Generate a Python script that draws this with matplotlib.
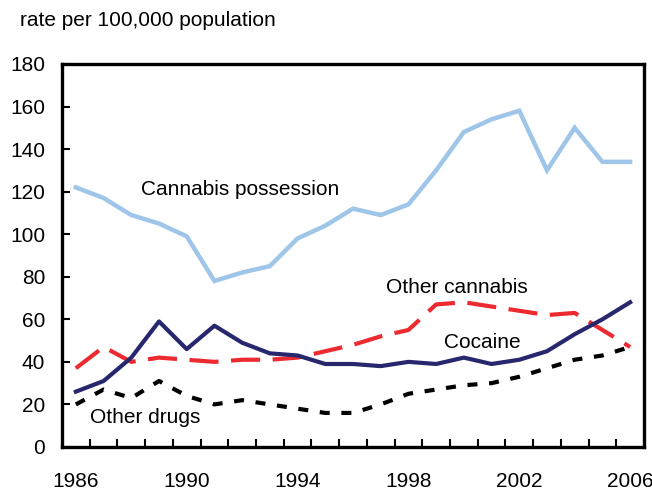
import numpy as np
import matplotlib
matplotlib.use('Agg')
import matplotlib.pyplot as plt

plt.rcParams['font.family'] = ['Liberation Sans', 'DejaVu Sans']

years = list(range(1986, 2007))
cannabis_possession = [122, 117, 109, 105, 99, 78, 82, 85, 98, 104, 112,
                       109, 114, 130, 148, 154, 158, 130, 150, 134, 134]
other_cannabis = [37, 47, 40, 42, 41, 40, 41, 41, 42, 45, 48,
                  52, 55, 67, 68, 66, 64, 62, 63, 55, 47]
cocaine = [26, 31, 42, 59, 46, 57, 49, 44, 43, 39, 39,
           38, 40, 39, 42, 39, 41, 45, 53, 60, 68]
other_drugs = [20, 27, 23, 31, 24, 20, 22, 20, 18, 16, 16,
               20, 25, 27, 29, 30, 33, 37, 41, 43, 47]

year_labels = [1986, 1990, 1994, 1998, 2002, 2006]
y_ticks = list(range(0, 181, 20))

fig = plt.figure(figsize=(6.52, 4.92), dpi=100)
ax = fig.add_axes([0.0951, 0.0915, 0.8926, 0.7785])

ax.plot(years, cannabis_possession, color='#9fc5e8', lw=3.2, solid_joinstyle='miter')
ax.plot(years, other_cannabis, color='#ed2a30', lw=3.0, dashes=(7, 3))
ax.plot(years, cocaine, color='#27276e', lw=3.0)
ax.plot(years, other_drugs, color='black', lw=3.0, dashes=(2.4, 2.8))

ax.text(1988.35, 121, 'Cannabis possession', fontsize=15, va='center')
ax.text(1997.2, 75, 'Other cannabis', fontsize=15, va='center')
ax.text(1999.3, 49, 'Cocaine', fontsize=15, va='center')
ax.text(1986.5, 14, 'Other drugs', fontsize=15, va='center')

ax.set_xlim(1985.5, 2006.5)
ax.set_ylim(0, 180)
ax.set_yticks(y_ticks)
ax.set_xticks(year_labels)
ax.set_xticks(np.arange(1986.5, 2006, 1), minor=True)
ax.tick_params(axis='x', which='major', length=0, labelsize=15, pad=18)
ax.tick_params(axis='x', which='minor', direction='in', length=6, width=1.5)
ax.tick_params(axis='y', direction='in', length=6, width=1.5, labelsize=15, pad=12)
for s in ax.spines.values():
    s.set_linewidth(2.4)

fig.text(0.031, 0.958, 'rate per 100,000 population', fontsize=15, va='center')

fig.savefig('out.png', dpi=100)
